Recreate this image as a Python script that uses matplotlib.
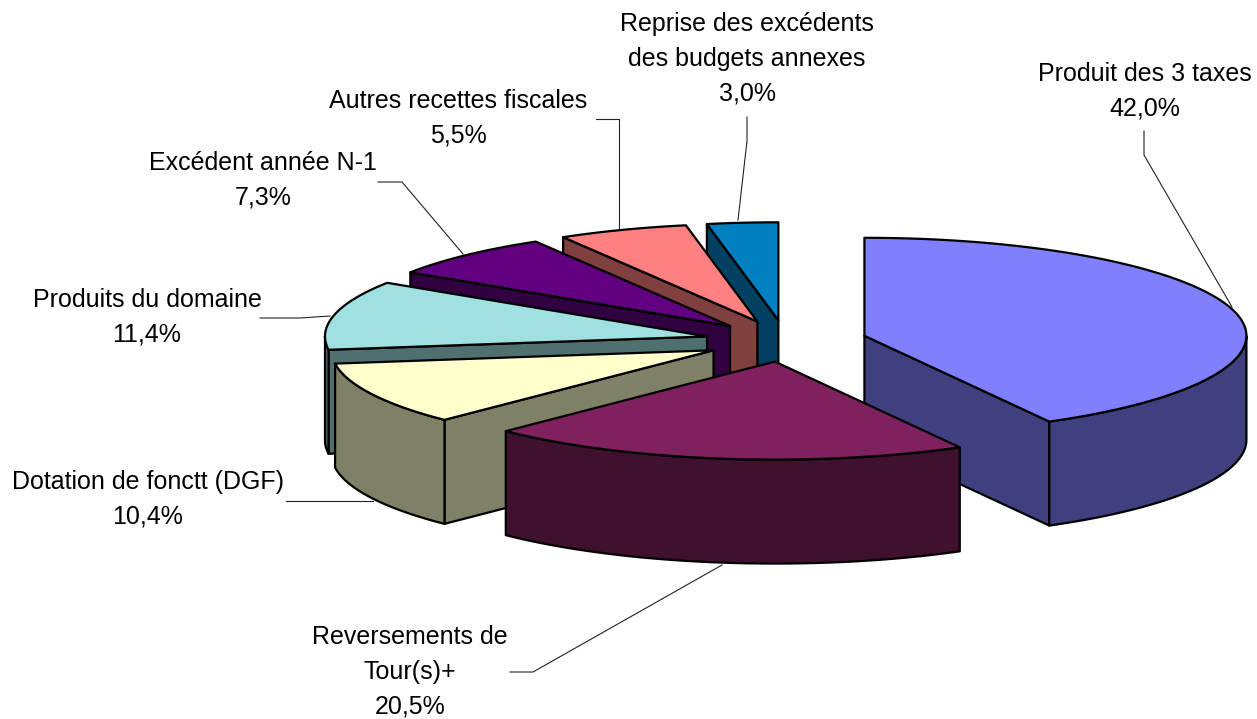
import numpy as np
import matplotlib
matplotlib.use("Agg")
import matplotlib.pyplot as plt
from matplotlib.patches import Polygon

# --- data ---
categories = ["Produit des 3 taxes", "Reversements de\nTour(s)+", "Dotation de fonctt (DGF)",
              "Produits du domaine", "Excédent année N-1", "Autres recettes fiscales",
              "Reprise des excédents\ndes budgets annexes"]
values = [42.0, 20.5, 10.4, 11.4, 7.3, 5.5, 3.0]
top_colors = ["#8080FF", "#7F205F", "#FFFFCC", "#A0E0E0", "#600080", "#FF8080", "#0080C0"]
side_colors = ["#404080", "#40102F", "#808066", "#507070", "#300040", "#804040", "#004060"]

# --- layout (pixels) ---
CX, CY = 786, 341
A, B = 382, 98
EXPLODE = 0.212
DEPTH = 104
draw_order = [0, 6, 5, 4, 3, 2, 1]
label_centers = [(1145, 91), (410, 672), (148, 499), (147, 317), (263, 180), (458, 118), (747, 59)]
leaders = [[(1144, 131), (1144, 155), (1232, 307)],
           [(510, 672), (533, 672), (722, 565)],
           [(286, 501), (310, 501), (373, 501)],
           [(260, 318), (300, 318), (330, 316)],
           [(378, 182), (402, 182), (463, 254)],
           [(596, 119), (619, 119), (619, 228)],
           [(747, 117), (747, 141), (738, 220)]]
FONT_PX = 25.0
LW = 1.6

W, H = 1257, 719
fig = plt.figure(figsize=(W / 100, H / 100), dpi=100, facecolor="white")
ax = fig.add_axes([0, 0, 1, 1])
ax.set_xlim(0, W)
ax.set_ylim(H, 0)
ax.axis("off")

vals = np.array(values, dtype=float)
edges = np.concatenate([[0], np.cumsum(vals) / vals.sum() * 2 * np.pi])


def rim(cx, cy, t):
    return np.column_stack([cx + A * np.sin(t), cy - B * np.cos(t)])


def face(points, color, z):
    ax.add_patch(Polygon(points, closed=True, facecolor=color, edgecolor="black",
                         linewidth=LW, joinstyle="round", zorder=z))


for z, i in enumerate(draw_order):
    t0, t1 = edges[i], edges[i + 1]
    mid = (t0 + t1) / 2
    ax0 = CX + EXPLODE * A * np.sin(mid)
    ay0 = CY - EXPLODE * B * np.cos(mid)
    apex = np.array([[ax0, ay0]])
    shift = np.array([0, DEPTH])
    base = z * 10
    # cut faces visible to the viewer
    for t, visible in ((t0, np.sin(t0) < 0), (t1, np.sin(t1) > 0)):
        if visible:
            p = rim(ax0, ay0, np.array([t]))
            face(np.vstack([apex, p, p + shift, apex + shift]), side_colors[i], base + 1)
    # outer wall on the near half
    s0, s1 = max(t0, np.pi / 2), min(t1, 3 * np.pi / 2)
    if s1 > s0:
        arc = rim(ax0, ay0, np.linspace(s0, s1, 80))
        face(np.vstack([arc, arc[::-1] + shift]), side_colors[i], base + 2)
    # top surface
    arc = rim(ax0, ay0, np.linspace(t0, t1, 160))
    face(np.vstack([apex, arc]), top_colors[i], base + 3)

for cat, val, (lx, ly), pts in zip(categories, values, label_centers, leaders):
    txt = f"{cat}\n{val:.1f}%".replace(".", ",")
    ax.text(lx, ly, txt, ha="center", va="center", family=["Liberation Sans", "DejaVu Sans"],
            fontsize=FONT_PX * 0.72, color="black", linespacing=1.56, zorder=200)
    xs, ys = zip(*pts)
    ax.plot(xs, ys, color="#222222", lw=0.8, zorder=-1)

fig.savefig("out.png", dpi=100, facecolor="white")
